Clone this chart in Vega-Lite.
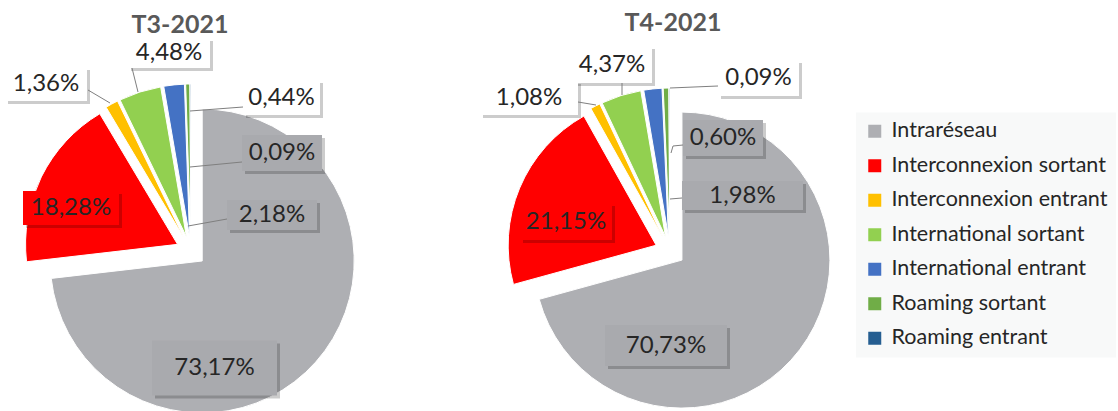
{
  "$schema": "https://vega.github.io/schema/vega-lite/v6.json",
  "padding": {"left": 0, "top": 11, "right": 0, "bottom": 0},
  "background": "#ffffff",
  "config": {
    "view": {"stroke": null},
    "font": "Lato",
    "locale": {"number": {"decimal": ",", "thousands": " ", "grouping": [3], "currency": ["", " €"]}},
    "legend": {
      "symbolType": "square", "symbolSize": 169, "symbolStrokeWidth": 0, "symbolOpacity": 1,
      "labelFont": "Lato", "labelFontSize": 21.5, "labelColor": "#262626", "labelLimit": 400,
      "rowPadding": 11.5, "labelOffset": 6, "padding": 8, "fillColor": "#f8f9f9"
    }
  },
  "datasets": {
    "t3": [
      {"cat": "Intraréseau", "pct": 0.7317, "o": 0},
      {"cat": "Interconnexion sortant", "pct": 0.1828, "o": 1},
      {"cat": "Interconnexion entrant", "pct": 0.0136, "o": 2},
      {"cat": "International sortant", "pct": 0.0448, "o": 3},
      {"cat": "International entrant", "pct": 0.0218, "o": 4},
      {"cat": "Roaming sortant", "pct": 0.0044, "o": 5},
      {"cat": "Roaming entrant", "pct": 0.0009, "o": 6}
    ],
    "t4": [
      {"cat": "Intraréseau", "pct": 0.7073, "o": 0},
      {"cat": "Interconnexion sortant", "pct": 0.2115, "o": 1},
      {"cat": "Interconnexion entrant", "pct": 0.0108, "o": 2},
      {"cat": "International sortant", "pct": 0.0437, "o": 3},
      {"cat": "International entrant", "pct": 0.0198, "o": 4},
      {"cat": "Roaming sortant", "pct": 0.0060, "o": 5},
      {"cat": "Roaming entrant", "pct": 0.0009, "o": 6}
    ]
  },
  "spacing": 93,
  "resolve": {"scale": {"color": "shared"}},
  "hconcat": [
    {
      "width": 382,
      "height": 300,
      "title": {"text": "T3-2021", "font": "Lato", "fontSize": 25, "fontWeight": "bold", "color": "#595959", "frame": "group", "anchor": "middle", "baseline": "bottom", "dx": -11, "offset": -25},
      "data": {"name": "t3"},
      "layer": [
        {
          "mark": {"type": "arc", "outerRadius": 152, "stroke": "#ffffff", "strokeWidth": 1,
            "xOffset": {"expr": "15*sin(PI*(datum.pct_start+datum.pct_end))"},
            "yOffset": {"expr": "-15*cos(PI*(datum.pct_start+datum.pct_end))"}},
          "encoding": {
            "theta": {"field": "pct", "type": "quantitative", "stack": true},
            "order": {"field": "o", "type": "quantitative"},
            "color": {"field": "cat", "type": "nominal",
              "scale": {"domain": ["Intraréseau", "Interconnexion sortant", "Interconnexion entrant", "International sortant", "International entrant", "Roaming sortant", "Roaming entrant"],
                        "range": ["#aeafb3", "#ff0000", "#ffc000", "#92d050", "#4472c4", "#70ad47", "#255e91"]},
              "legend": {"title": null, "orient": "none", "legendX": 856, "legendY": 11.5}}
          }
        },
        {
          "mark": {"type": "point", "filled": true, "opacity": 0.2, "size": 4, "strokeWidth": 0, "fill": "#000000",
            "shape": {"expr": "['M-62.5,-27.5h125v55h-125z','M-48,-17h96v34h-96z','M-41,-17h82v34h-82z','M-41,-15h82v30h-82z','M-45,-15h90v30h-90z','M-38.5,-17.5h77v35h-77z','M-40,-18h80v36h-80z'][datum.o]"},
            "xOffset": {"expr": "[23.5,-120,-145,-22,81,90.5,91][datum.o]+3"},
            "yOffset": {"expr": "[117,-43,-167,-198,-36,-153.5,-98][datum.o]+3"}},
          "encoding": {}
        },
        {
          "mark": {"type": "point", "filled": true, "opacity": 1, "size": 4, "strokeWidth": 0,
            "fill": {"expr": "['#a9aaae','#ff0000','#ffffff','#ffffff','#a9aaae','#ffffff','#a9aaae'][datum.o]"},
            "shape": {"expr": "['M-62.5,-27.5h125v55h-125z','M-48,-17h96v34h-96z','M-41,-17h82v34h-82z','M-41,-15h82v30h-82z','M-45,-15h90v30h-90z','M-38.5,-17.5h77v35h-77z','M-40,-18h80v36h-80z'][datum.o]"},
            "xOffset": {"expr": "[23.5,-120,-145,-22,81,90.5,91][datum.o]"},
            "yOffset": {"expr": "[117,-43,-167,-198,-36,-153.5,-98][datum.o]"}},
          "encoding": {}
        },
        {
          "mark": {"type": "point", "filled": false, "opacity": 1, "size": 4, "stroke": "#7f7f7f", "strokeWidth": 1,
            "shape": {"expr": "['M0,0','M0,0','M-103,-161L-81,-148','M-59,-183L-53,-159','M36,-32L-3,-25','M52,-144L-1,-140','M51,-89L-1,-84'][datum.o]"}},
          "encoding": {}
        },
        {
          "mark": {"type": "text", "font": "Lato", "fontSize": 24, "fill": "#262626", "align": "center", "baseline": "middle",
            "xOffset": {"expr": "[23.5,-120,-145,-22,81,90.5,91][datum.o]"},
            "yOffset": {"expr": "[117,-43,-167,-198,-36,-153.5,-98][datum.o]"}},
          "encoding": {"text": {"field": "pct", "type": "quantitative", "format": ".2%"}}
        }
      ]
    },
    {
      "width": 390,
      "height": 300,
      "title": {"text": "T4-2021", "font": "Lato", "fontSize": 25, "fontWeight": "bold", "color": "#595959", "frame": "group", "anchor": "middle", "baseline": "bottom", "dx": 3, "offset": -15},
      "data": {"name": "t4"},
      "layer": [
        {
          "mark": {"type": "arc", "outerRadius": 148, "stroke": "#ffffff", "strokeWidth": 1,
            "xOffset": {"expr": "15*sin(PI*(datum.pct_start+datum.pct_end))"},
            "yOffset": {"expr": "-15*cos(PI*(datum.pct_start+datum.pct_end))"}},
          "encoding": {
            "theta": {"field": "pct", "type": "quantitative", "stack": true},
            "order": {"field": "o", "type": "quantitative"},
            "color": {"field": "cat", "type": "nominal",
              "scale": {"domain": ["Intraréseau", "Interconnexion sortant", "Interconnexion entrant", "International sortant", "International entrant", "Roaming sortant", "Roaming entrant"],
                        "range": ["#aeafb3", "#ff0000", "#ffc000", "#92d050", "#4472c4", "#70ad47", "#255e91"]},
              "legend": {"title": null, "orient": "none", "legendX": 856, "legendY": 11.5}}
          }
        },
        {
          "mark": {"type": "point", "filled": true, "opacity": 0.2, "size": 4, "strokeWidth": 0, "fill": "#000000",
            "shape": {"expr": "['M-61,-20.5h122v41h-122z','M-46,-18.5h92v37h-92z','M-49,-17h98v34h-98z','M-40,-18.5h80v37h-80z','M-60.5,-14.5h121v29h-121z','M-40,-18h80v36h-80z','M-40.5,-18h81v36h-81z'][datum.o]"},
            "xOffset": {"expr": "[-4,-104,-141,-58,72.5,53,88.5][datum.o]+3"},
            "yOffset": {"expr": "[94.5,-29.5,-153,-186.5,-55.5,-113,-173][datum.o]+3"}},
          "encoding": {}
        },
        {
          "mark": {"type": "point", "filled": true, "opacity": 1, "size": 4, "strokeWidth": 0,
            "fill": {"expr": "['#a9aaae','#ff0000','#ffffff','#ffffff','#a9aaae','#a9aaae','#ffffff'][datum.o]"},
            "shape": {"expr": "['M-61,-20.5h122v41h-122z','M-46,-18.5h92v37h-92z','M-49,-17h98v34h-98z','M-40,-18.5h80v37h-80z','M-60.5,-14.5h121v29h-121z','M-40,-18h80v36h-80z','M-40.5,-18h81v36h-81z'][datum.o]"},
            "xOffset": {"expr": "[-4,-104,-141,-58,72.5,53,88.5][datum.o]"},
            "yOffset": {"expr": "[94.5,-29.5,-153,-186.5,-55.5,-113,-173][datum.o]"}},
          "encoding": {}
        },
        {
          "mark": {"type": "point", "filled": false, "opacity": 1, "size": 4, "stroke": "#7f7f7f", "strokeWidth": 1,
            "shape": {"expr": "['M0,0','M0,0','M-92,-149L-74,-146','M-48,-168L-48,-156','M12,-53L0,-52','M13,-106L3,-105L1,-98','M48,-165L0,-163'][datum.o]"}},
          "encoding": {}
        },
        {
          "mark": {"type": "text", "font": "Lato", "fontSize": 24, "fill": "#262626", "align": "center", "baseline": "middle",
            "xOffset": {"expr": "[-4,-104,-141,-58,72.5,53,88.5][datum.o]"},
            "yOffset": {"expr": "[94.5,-29.5,-153,-186.5,-55.5,-113,-173][datum.o]"}},
          "encoding": {"text": {"field": "pct", "type": "quantitative", "format": ".2%"}}
        }
      ]
    }
  ]
}
